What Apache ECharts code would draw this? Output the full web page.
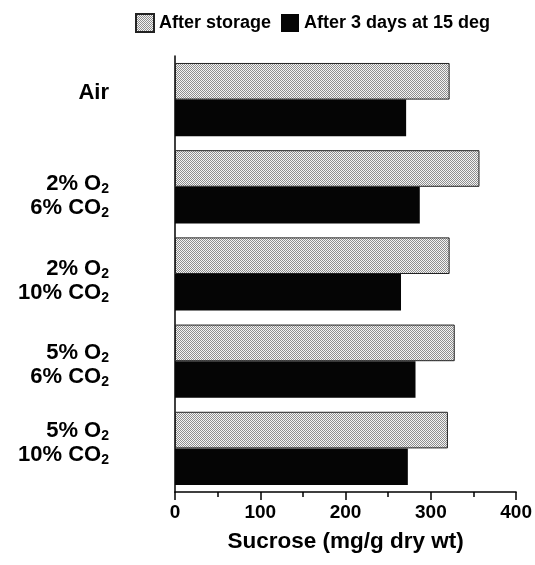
<!DOCTYPE html>
<html>
<head>
<meta charset="utf-8">
<script src="https://cdn.jsdelivr.net/npm/echarts@6/dist/echarts.min.js"></script>
<style>html,body{margin:0;padding:0;background:#fff}#c{width:535px;height:565px}</style>
</head>
<body>
<div id="c"></div>
<script>
// ---- data ----
const categories = ['Air', '2% O2\n6% CO2', '2% O2\n10% CO2', '5% O2\n6% CO2', '5% O2\n10% CO2'];
const seriesNames = ['After storage', 'After 3 days at 15 deg'];
const afterStorage = [322, 357, 322, 328, 320];
const after3Days = [271, 287, 265, 282, 273];
const xMin = 0, xMax = 400, xStep = 100;
const xTitle = 'Sucrose (mg/g dry wt)';

// ---- style ----
const FONT = '"Liberation Sans", Arial, Helvetica, sans-serif';
function stipple() {
  const c = document.createElement('canvas');
  c.width = 2; c.height = 2;
  const g = c.getContext('2d');
  g.fillStyle = '#f4f4f4'; g.fillRect(0, 0, 2, 2);
  g.fillStyle = '#8e8e8e'; g.fillRect(0, 0, 1, 1); g.fillRect(1, 1, 1, 1);
  return c;
}
const labelShift = [-7, 9, 7, 4, -5]; // vertical nudge of category labels (px)

const rich = {
  m: { fontSize: 22, fontWeight: 'bold', fontFamily: FONT, color: '#000', lineHeight: 24 },
  s: { fontSize: 14, fontWeight: 'bold', fontFamily: FONT, color: '#000', lineHeight: 12, verticalAlign: 'bottom' }
};
labelShift.forEach(function (d) {
  const h = Math.abs(d) * 2;
  if (h > 0) rich['sp' + h] = { fontSize: 1, lineHeight: h, color: 'rgba(0,0,0,0)' };
});

function fmtLabel(value, index) {
  const lines = value.split('\n').map(function (line) {
    return line.split(/(O2)/).filter(function (p) { return p.length; }).map(function (p) {
      return p === 'O2' ? '{m|O}{s|2}' : '{m|' + p + '}';
    }).join('');
  });
  const d = labelShift[index] || 0;
  const h = Math.abs(d) * 2;
  if (d > 0) lines.unshift('{sp' + h + '| }');
  if (d < 0) lines.push('{sp' + h + '| }');
  return lines.join('\n');
}

const chart = echarts.init(document.getElementById('c'), null, { renderer: 'canvas' });
chart.setOption({
  animation: false,
  backgroundColor: '#fff',
  legend: {
    left: 130, top: 8,
    itemWidth: 18, itemHeight: 18, itemGap: 10,
    icon: 'rect',
    textStyle: { fontSize: 18, fontWeight: 'bold', fontFamily: FONT, color: '#000' },
    data: seriesNames
  },
  grid: { left: 175, right: 18, top: 56, bottom: 73, containLabel: false },
  xAxis: {
    type: 'value', min: xMin, max: xMax, interval: xStep,
    name: xTitle, nameLocation: 'middle', nameGap: 38,
    nameTextStyle: { fontSize: 22.5, fontWeight: 'bold', fontFamily: FONT, color: '#000' },
    axisLine: { show: true, lineStyle: { color: '#000', width: 1.5 } },
    axisTick: { show: true, length: 8, lineStyle: { color: '#000', width: 1.5 } },
    minorTick: { show: true, splitNumber: 2, length: 5, lineStyle: { color: '#000', width: 1.5 } },
    splitLine: { show: false },
    axisLabel: { fontSize: 19, fontWeight: 'bold', fontFamily: FONT, color: '#000', margin: 11 }
  },
  yAxis: {
    type: 'category', inverse: true, data: categories,
    axisLine: { show: true, lineStyle: { color: '#000', width: 1.5 } },
    axisTick: { show: false },
    axisLabel: { margin: 66, align: 'right', formatter: fmtLabel, rich: rich }
  },
  series: [
    {
      name: seriesNames[0], type: 'bar', data: afterStorage,
      barGap: '0%', barCategoryGap: '16%',
      itemStyle: { color: { image: stipple(), repeat: 'repeat' }, borderColor: '#222', borderWidth: 1 }
    },
    {
      name: seriesNames[1], type: 'bar', data: after3Days,
      barGap: '0%', barCategoryGap: '16%',
      itemStyle: { color: '#050505' }
    }
  ]
});
</script>
</body>
</html>
